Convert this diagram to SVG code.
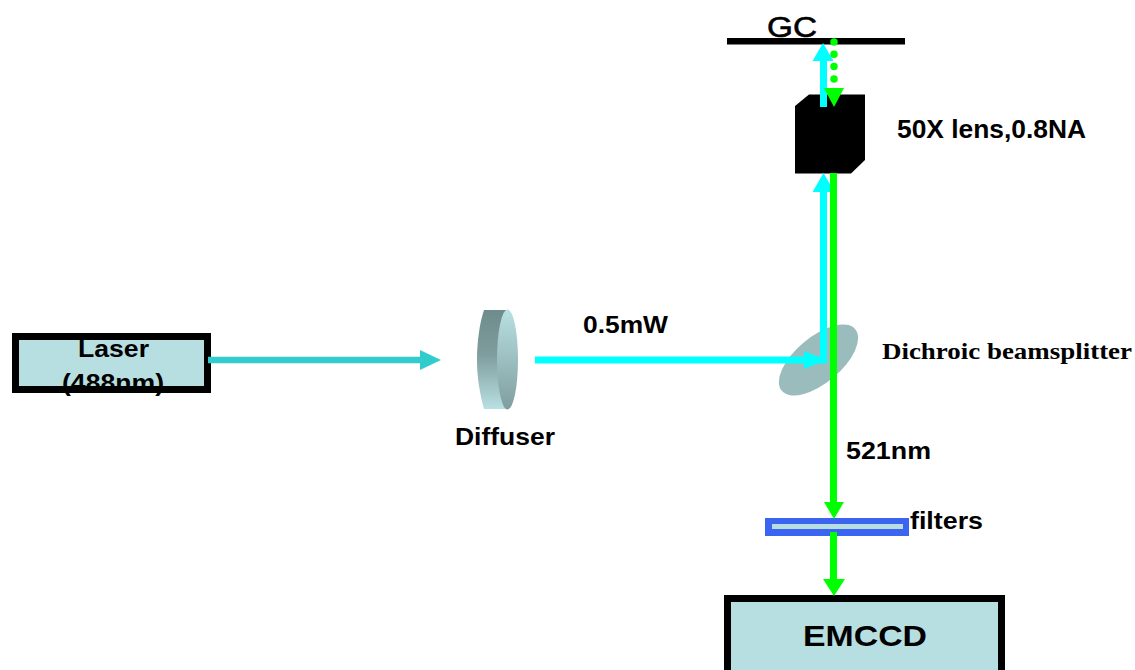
<svg xmlns="http://www.w3.org/2000/svg" width="1135" height="670" viewBox="0 0 1135 670">
<style>
text{font-family:"Liberation Sans",Arial,sans-serif;font-weight:bold;fill:#000}
.box{fill:#b7dee0;stroke:#000;stroke-width:7}
.cy{stroke:#00ffff;stroke-width:7;fill:none}
.gr{stroke:#00ff00;stroke-width:7;fill:none}
.cyh{fill:#00ffff}.grh{fill:#00ff00}
</style>
<defs>
<linearGradient id="rim" x1="0" y1="0" x2="0" y2="1"><stop offset="0" stop-color="#6f8c8c"/><stop offset="0.45" stop-color="#7f9d9e"/><stop offset="1" stop-color="#b9e0e2"/></linearGradient>
<linearGradient id="face" x1="0" y1="0" x2="0" y2="1"><stop offset="0" stop-color="#b9e0e2"/><stop offset="1" stop-color="#7f9d9e"/></linearGradient>
</defs>
<g id="laser">
<rect x="15.500" y="336.500" width="192" height="53" fill="#b7dee0"/>
<text x="78" y="357" font-size="24.500" textLength="71" lengthAdjust="spacingAndGlyphs">Laser</text>
<text x="62" y="391" font-size="24.500" textLength="102" lengthAdjust="spacingAndGlyphs">(488nm)</text>
<rect x="15.500" y="336.500" width="192" height="53" fill="none" stroke="#000" stroke-width="7"/>
</g>
<g id="diffuser">
<path d="M484 310H506L507 409H484C480 395 477 378 477 360C477 340 480 322 484 310Z" fill="url(#rim)"/>
<ellipse cx="507.500" cy="359.500" rx="10.500" ry="50" fill="url(#face)"/>
<text x="455" y="445" font-size="24.500" textLength="100" lengthAdjust="spacingAndGlyphs">Diffuser</text>
</g>
<g id="beamsplitter">
<ellipse cx="818.500" cy="360" rx="48" ry="23" transform="rotate(-40 818.500 360)" fill="#9bbcbc"/>
<text x="882" y="359" font-size="23" textLength="250" lengthAdjust="spacingAndGlyphs" style="font-family:'Liberation Serif',serif">Dichroic beamsplitter</text>
</g>
<g id="lens">
<polygon points="795,106 809,94.500 865,94.500 865,160 851,173.500 795,173.500" fill="#000"/>
<text x="897" y="138" font-size="25" textLength="189" lengthAdjust="spacingAndGlyphs">50X lens,0.8NA</text>
</g>
<g id="gc">
<rect x="727" y="38" width="178" height="6.500" fill="#000"/>
<text x="767" y="37" font-size="30" textLength="50" lengthAdjust="spacingAndGlyphs" style="font-weight:normal;stroke:#000;stroke-width:.6">GC</text>
</g>
<g id="filters">
<rect x="765" y="518" width="144" height="18" fill="#3b64f0"/>
<rect x="772" y="524" width="131" height="5" fill="#b7dee0"/>
<text x="910" y="529" font-size="24.500" textLength="73" lengthAdjust="spacingAndGlyphs">filters</text>
</g>
<g id="emccd">
<rect class="box" x="727.500" y="598.500" width="274" height="80"/>
<text x="803" y="646" font-size="30" textLength="124" lengthAdjust="spacingAndGlyphs">EMCCD</text>
</g>
<g id="connectors">
<path d="M208 360H421" stroke="#33cccc" stroke-width="6.500" fill="none"/>
<polygon points="420,350 441,360 420,370" fill="#33cccc"/>
<path class="cy" d="M535 360H823.500V190"/>
<polygon class="cyh" points="804,351 826,360 804,369"/>
<polygon class="cyh" points="812.500,192 823.500,173 834.500,192"/>
<path class="gr" d="M833.500 173V504"/>
<polygon class="grh" points="824,502 844,502 834,519"/>
<path class="gr" d="M833.500 532V581"/>
<polygon class="grh" points="823,579 845,579 834,596"/>
<path class="cy" d="M823.500 107V60"/>
<polygon class="cyh" points="812.500,61 823,43 833.500,61"/>
<path stroke="#00ff00" stroke-width="7.500" stroke-linecap="round" stroke-dasharray="0 12.300" fill="none" d="M834 42V80"/>
<polygon class="grh" points="824,88 844,88 834,107"/>
</g>
<g id="labels">
<text x="583" y="333" font-size="24.500" textLength="85" lengthAdjust="spacingAndGlyphs">0.5mW</text>
<text x="846" y="459" font-size="24.500" textLength="85" lengthAdjust="spacingAndGlyphs">521nm</text>
</g>
</svg>
